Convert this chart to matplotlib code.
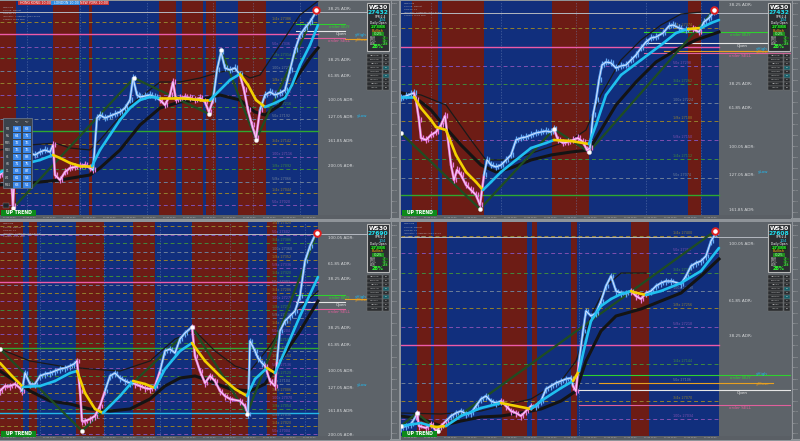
import matplotlib
matplotlib.use("Agg")
import matplotlib.pyplot as plt
from matplotlib.patches import Rectangle
from matplotlib.collections import LineCollection

# ------------------------------------------------------------------ data
# levels are chart points above each panel's lower edge; x is bar position
p1_price = [(0,40),(5,45),(10,55),(11,40),(13,9),(15,52),(20,59),(25,60),(30,62),(35,60),(40,63),(45,65),(50,63),(53,70),(55,40),(60,35),(65,43),(70,47),(75,48),(80,49),(85,50),(90,47),(93,45),(97,97),(100,100),(105,97),(110,99),(115,101),(120,103),(125,107),(130,115),(133,137),(137,120),(140,118),(145,119),(150,120),(155,118),(160,115),(165,110),(170,120),(173,133),(176,115),(180,117),(185,118),(190,117),(195,115),(200,117),(205,113),(209,103),(213,115),(217,145),(221,163),(225,147),(230,145),(235,147),(240,140),(244,125),(248,105),(252,90),(256,77),(260,105),(265,120),(270,123),(275,120),(280,122),(285,125),(290,145),(295,165),(300,180),(305,187),(310,193),(316,203)]
p1_fast = [(0,43),(20,50),(40,55),(53,60),(60,57),(70,52),(80,49),(92,49),(100,65),(110,80),(120,95),(130,107),(140,115),(150,118),(160,117),(175,117),(190,116),(200,115),(210,115),(220,125),(230,135),(240,141),(248,130),(256,115),(265,108),(275,112),(285,117),(292,130),(300,150),(310,170),(318,190)]
p1_slow = [(0,30),(30,32),(60,35),(90,40),(100,47),(120,65),(140,90),(160,107),(180,113),(200,115),(220,120),(240,115),(255,103),(265,100),(280,110),(295,135),(310,157),(318,167)]
p1_band = [(0,65),(30,70),(55,72),(70,67),(90,65),(100,75),(130,110),(160,133),(180,133),(200,137),(220,143),(235,145),(250,137),(260,140),(280,170),(300,200),(318,214)]
p1_zig = [(13,7),(134,137),(209,101),(221,165),(256,75),(316,205)]
p1_red = [(0,16),(53,79),(89,92),(159,176),(182,203),(206,216),(238,266)]
p1_down = [(53,92),(160,210),(240,265)]
p1_pink = [(0,14),(53,93),(160,212),(241,262)]
p1_levels = [193,168,157,144,132,120,108,96,71,58,46,33,22,10]
p1_solid = {"pink": 181, "green": 84}
p1_last = 203
p1_keys = {"order BUY": 191, "Open": 184, "order SELL": 177, "yHigh": 180, "yClose": 176, "yLow": 99}
p1_key_start = 296
p1_adr_v = [206,155,139,115,98,74,49]
p1_adr = ["38.25 ADR:","38.25 ADR:","61.85 ADR:","100.05 ADR:","127.05 ADR:","161.85 ADR:","200.05 ADR:"]
p1_vlines = [27,80,147,213,253,300]

p2_price = [(0,117),(5,119),(10,121),(13,122),(15,115),(18,95),(20,77),(25,75),(30,80),(35,83),(40,90),(44,99),(47,75),(50,50),(53,35),(56,45),(60,40),(65,30),(70,25),(75,20),(79,10),(83,40),(86,55),(90,50),(95,48),(100,50),(105,55),(110,60),(115,75),(120,77),(125,78),(130,80),(135,82),(140,83),(145,84),(150,83),(153,86),(157,75),(162,72),(167,73),(172,75),(177,77),(182,73),(186,65),(189,67),(192,100),(195,115),(198,135),(201,150),(205,153),(210,152),(215,147),(220,149),(225,150),(230,155),(235,160),(240,167),(245,173),(250,177),(255,178),(262,182),(268,189),(272,190),(278,187),(285,185),(292,186),(298,183),(303,193),(308,197),(313,203)]
p2_fast = [(0,118),(13,118),(20,107),(30,95),(35,88),(45,85),(55,60),(65,43),(75,33),(82,25),(90,33),(100,43),(115,55),(130,67),(145,72),(153,75),(170,74),(188,71),(195,90),(205,120),(220,140),(240,155),(260,170),(275,182),(287,186),(300,187),(310,192),(318,195)]
p2_slow = [(0,122),(15,117),(30,105),(45,87),(60,70),(80,50),(95,43),(110,47),(130,55),(150,60),(170,63),(188,65),(200,85),(215,110),(235,133),(255,153),(275,165),(295,175),(318,183)]
p2_band = [(0,123),(20,120),(45,110),(70,75),(85,55),(110,55),(140,65),(170,75),(185,85),(200,120),(220,155),(240,175),(260,190),(280,201),(300,203)]
p2_zig = [(0,82),(79,6),(153,86),(188,63),(313,205)]
p2_red = [(11,37),(41,83),(151,188),(287,300)]
p2_down = [(13,82),(153,188),(287,300)]
p2_pink = [(14,82),(154,189),(292,300)]
p2_levels = [187,149,131,112,94,75,56,37]
p2_solid = {"pink": 168, "green": 20}
p2_last = 202
p2_keys = {"order BUY": 183, "Open": 172, "order SELL": 162, "yHigh": 166, "yClose": 164, "yLow": 43}
p2_key_start = 243
p2_adr_v = [210,131,107,68,40,5]
p2_adr = ["38.25 ADR:","38.25 ADR:","61.85 ADR:","100.05 ADR:","127.05 ADR:","161.85 ADR:"]
p2_vlines = [30,100,175,245,300]

p3_price = [(0,45),(5,50),(10,50),(15,52),(20,48),(22,45),(25,63),(30,52),(35,52),(40,60),(45,62),(50,63),(55,65),(60,67),(65,68),(70,70),(74,72),(77,75),(80,45),(82,15),(85,15),(90,17),(95,20),(100,30),(105,45),(110,60),(115,63),(120,58),(125,55),(130,53),(135,52),(140,50),(145,48),(150,47),(155,50),(160,65),(165,85),(170,87),(175,83),(180,97),(185,103),(192,109),(195,80),(200,65),(205,53),(210,60),(215,55),(220,45),(225,40),(230,37),(240,35),(245,30),(248,22),(250,95),(255,85),(258,78),(262,73),(265,70),(270,55),(275,50),(277,75),(280,105),(285,115),(290,120),(295,125),(300,140),(305,175),(310,190),(316,203)]
p3_fast = [(0,73),(12,60),(23,49),(40,50),(55,55),(70,63),(77,65),(85,43),(95,27),(103,23),(110,30),(120,40),(133,55),(145,52),(155,48),(165,67),(180,85),(192,93),(205,75),(220,60),(235,47),(247,40),(255,57),(267,68),(275,63),(285,85),(300,120),(318,159)]
p3_slow = [(0,65),(15,55),(30,45),(50,35),(70,32),(90,27),(110,25),(130,27),(150,37),(165,50),(180,58),(195,60),(210,55),(230,47),(250,45),(265,52),(280,75),(300,105),(318,135)]
p3_band = [(0,87),(30,75),(60,70),(90,67),(120,65),(150,75),(175,97),(195,105),(215,85),(235,70),(250,65),(270,90),(290,120),(318,145)]
p3_zig = [(0,87),(82,5),(192,109),(247,22),(317,203)]
p3_red = [(0,23),(29,37),(76,104),(133,155),(192,248),(267,277)]
p3_down = [(0,23),(77,103),(133,155),(192,247),(267,276)]
p3_pink = [(0,23),(77,103),(135,158),(192,247),(265,277)]
p3_levels = [210,201,193,184,176,168,160,151,143,135,126,118,110,102,93,85,77,68,60,52,43,35,27,18,10,2]
p3_solid = {"pink": 154, "green": 88, "cyan": 23}
p3_last = 202
p3_keys = {"order BUY": 141, "Open": 134, "order SELL": 127, "yHigh": 139, "yClose": 137, "yLow": 51}
p3_key_start = 296
p3_adr_v = [198,172,157,108,91,65,48,25,1]
p3_adr = ["100.05 ADR:","61.85 ADR:","38.25 ADR:","38.25 ADR:","61.85 ADR:","100.05 ADR:","127.05 ADR:","161.85 ADR:","200.05 ADR:"]
p3_vlines = [40,104,160,230,305]

p4_price = [(0,8),(5,10),(10,12),(15,20),(16,23),(18,10),(25,8),(30,12),(35,5),(40,10),(45,15),(50,20),(55,23),(60,25),(65,22),(70,23),(75,30),(80,37),(85,40),(90,35),(95,33),(100,35),(105,30),(110,25),(115,23),(120,20),(125,25),(130,30),(135,30),(140,35),(145,47),(150,50),(155,53),(160,55),(165,57),(170,58),(172,50),(175,45),(178,75),(182,105),(185,125),(190,120),(195,123),(200,135),(205,150),(210,160),(215,145),(220,143),(225,143),(230,145),(235,140),(240,137),(245,143),(250,145),(255,150),(260,153),(265,155),(270,155),(280,152),(285,160),(290,170),(295,173),(300,175),(305,180),(310,195),(315,203)]
p4_fast = [(0,10),(20,13),(30,10),(35,9),(45,10),(60,20),(80,28),(100,33),(105,32),(130,27),(140,35),(160,48),(172,55),(178,65),(185,95),(190,115),(200,130),(210,137),(220,142),(230,145),(232,144),(245,141),(260,145),(280,153),(300,165),(318,188)]
p4_slow = [(0,20),(20,17),(40,10),(60,15),(80,19),(100,20),(120,23),(140,27),(160,35),(175,45),(185,75),(200,105),(215,120),(240,127),(260,135),(280,143),(300,160),(318,177)]
p4_band = [(0,23),(40,22),(80,25),(100,30),(130,37),(160,55),(175,75),(190,120),(205,150),(220,163),(245,163)]
p4_zig = [(0,10),(16,23),(37,5),(314,205)]
p4_red = [(16,30),(33,46),(101,126),(131,136),(170,176),(230,248)]
p4_down = [(30,45),(100,132),(170,176),(230,246)]
p4_pink = [(15,45),(100,132),(172,178),(230,246)]
p4_levels = [200,183,163,145,128,109,72,53,35,17]
p4_solid = {"pink": 91}
p4_last = 199
p4_keys = {"order BUY": 61, "Open": 46, "order SELL": 31, "yHigh": 62, "yClose": 53, "yLow": None}
p4_key_start = 178
p4_adr_v = [192,135,100]
p4_adr = ["100.05 ADR:","61.85 ADR:","38.25 ADR:"]
p4_vlines = [178]

quote_main = ["27432", "27432", "27690", "27608"]
tf_rows = ["M1","M5","M15","M30","H1","H4","D1","W1","MN1"]
tf_col1 = [68,64,72,76,75,71,63,61,63]
tf_col2 = [63,71,76,76,83,75,87,54,51]
pair_rows = ["GBPUSD","EURUSD","GBPJPY","USDCAD","AUDUSD","USDCHF","NAS100","GER30","US500"]
pair_vals = ["58","55","71","60","63","69","77","57","58"]
level_tags = ["1/4x","50x","3/4x","100x","1/8x","5/8x"]

# ------------------------------------------------------------------ style
W, H = 800, 441
BLUE = "#112f7d"
RED = "#6d1c15"
GRAY = "#5d6369"
LEVEL_COLS = ["#93802e", "#8050b0", "#3f8a3f", "#6c7e98"]

fig = plt.figure(figsize=(8, 4.41), dpi=100)
fig.patch.set_facecolor("#8f9499")


def px_axes(x, y, w, h):
    return fig.add_axes([x / W, 1 - (y + h) / H, w / W, h / H])


def in_ranges(x, ranges):
    return any(a <= x <= b for a, b in ranges)


def colored_line(ax, pts, ranges, c_in, c_out, lw, z):
    segs, cols = [], []
    for (x0, y0), (x1, y1) in zip(pts[:-1], pts[1:]):
        segs.append([(x0, y0), (x1, y1)])
        cols.append(c_in if in_ranges((x0 + x1) / 2, ranges) else c_out)
    ax.add_collection(LineCollection(segs, colors=cols, linewidths=lw,
                                     capstyle="round", joinstyle="round", zorder=z))


def wicks(ax, pts, ranges, c_in, c_out, z):
    segs, cols = [], []
    for x, v in pts:
        segs.append([(x, v - 3.5), (x, v + 3.5)])
        segs.append([(x + 2, v - 2), (x + 2, v + 2.5)])
        c = c_in if in_ranges(x, ranges) else c_out
        cols += [c, c]
    ax.add_collection(LineCollection(segs, colors=cols, linewidths=0.9, zorder=z))


def xy(pts):
    return [p[0] for p in pts], [p[1] for p in pts]


panels = [
    dict(price=p1_price, fast=p1_fast, slow=p1_slow, band=p1_band, zig=p1_zig, red=p1_red,
         down=p1_down, pink=p1_pink, levels=p1_levels, solid=p1_solid, last=p1_last,
         keys=p1_keys, kstart=p1_key_start, adrv=p1_adr_v, adr=p1_adr, vl=p1_vlines),
    dict(price=p2_price, fast=p2_fast, slow=p2_slow, band=p2_band, zig=p2_zig, red=p2_red,
         down=p2_down, pink=p2_pink, levels=p2_levels, solid=p2_solid, last=p2_last,
         keys=p2_keys, kstart=p2_key_start, adrv=p2_adr_v, adr=p2_adr, vl=p2_vlines),
    dict(price=p3_price, fast=p3_fast, slow=p3_slow, band=p3_band, zig=p3_zig, red=p3_red,
         down=p3_down, pink=p3_pink, levels=p3_levels, solid=p3_solid, last=p3_last,
         keys=p3_keys, kstart=p3_key_start, adrv=p3_adr_v, adr=p3_adr, vl=p3_vlines),
    dict(price=p4_price, fast=p4_fast, slow=p4_slow, band=p4_band, zig=p4_zig, red=p4_red,
         down=p4_down, pink=p4_pink, levels=p4_levels, solid=p4_solid, last=p4_last,
         keys=p4_keys, kstart=p4_key_start, adrv=p4_adr_v, adr=p4_adr, vl=p4_vlines),
]
origins = [(0, 0), (401, 0), (0, 221), (401, 221)]

KEY_COL = {"order BUY": "#2fd02f", "Open": "#e6e6e6", "order SELL": "#e0609c",
           "yHigh": "#22b8ee", "yClose": "#e8a020", "yLow": "#22b8ee"}
SOLID_COL = {"pink": "#ee5aa8", "green": "#2fa82f", "cyan": "#22b8e8"}
BLUE_C, PINK_C = "#62a6f2", "#ea78da"

for idx, (d, (ox, oy)) in enumerate(zip(panels, origins)):
    ax = px_axes(ox, oy + 1, 390, 214)
    ax.set_xlim(0, 390)
    ax.set_ylim(0, 214)
    ax.set_axis_off()
    ax.axvspan(0, 318, color=BLUE, zorder=0, lw=0)
    ax.axvspan(318, 390, color=GRAY, zorder=0, lw=0)
    for a, b in d["red"]:
        ax.axvspan(a, b, color=RED, zorder=0.5, lw=0)
    for v in d["vl"]:
        ax.plot([v, v], [0, 214], color="#6f86b8", lw=0.5, ls=(0, (2, 2)), alpha=0.6, zorder=1)

    # dashed levels
    for i, v in enumerate(d["levels"]):
        c = LEVEL_COLS[i % 4]
        ax.plot([0, 318], [v, v], color=c, lw=0.7, ls=(0, (4, 3)), zorder=1)
        ax.text(272, v + 1.2, f"{level_tags[i % 6]} {27000 + 2 * v}", color=c, fontsize=2.4,
                ha="left", va="bottom", zorder=2)
    for name, v in d["solid"].items():
        ax.plot([0, 318], [v, v], color=SOLID_COL[name], lw=1.0, zorder=1.5)
    ax.plot([0, 390], [d["last"], d["last"]], color="#b4b8c0", lw=0.7, zorder=1.5)

    # key levels in the right margin
    k = d["keys"]
    x0 = d["kstart"]
    xend = 345 if x0 > 250 else 390
    for name in ["order BUY", "Open", "order SELL"]:
        ax.plot([x0, xend], [k[name], k[name]], color=KEY_COL[name], lw=0.8, zorder=1.6)
    ax.plot([x0 + 20 if x0 < 250 else 345, 372], [k["yClose"], k["yClose"]],
            color=KEY_COL["yClose"], lw=0.8, zorder=1.6)
    ax.text(329, k["order BUY"] - 1, "order BUY", color=KEY_COL["order BUY"], fontsize=3,
            va="top", zorder=3)
    ax.text(336, k["Open"] - 1, "Open", color=KEY_COL["Open"], fontsize=3, va="top", zorder=3)
    ax.text(328, k["order SELL"] - 1, "order SELL", color=KEY_COL["order SELL"], fontsize=3,
            va="top", zorder=3)
    ax.text(355, k["yHigh"], "yHigh", color=KEY_COL["yHigh"], fontsize=3, va="center", zorder=3)
    ax.text(355, k["yClose"] - 1.5, "yClose", color=KEY_COL["yClose"], fontsize=3, va="center",
            zorder=3)
    if k["yLow"] is not None:
        ax.text(357, k["yLow"], "yLow", color=KEY_COL["yLow"], fontsize=3, va="center", zorder=3)
    for v, t in zip(d["adrv"], d["adr"]):
        ax.text(328, v, t, color="#d8dadc", fontsize=3, va="center", zorder=3)

    # indicators
    bx, bv = xy(d["band"])
    ax.plot(bx, bv, color="#1a1a1a", lw=0.9, zorder=2)
    sx, sv = xy(d["slow"])
    ax.plot(sx, sv, color="#141414", lw=2.2, zorder=2.2)
    zx, zv = xy(d["zig"])
    ax.plot(zx, zv, color="#1f4d22", lw=1.6, zorder=2.4)
    wicks(ax, d["price"], d["pink"], PINK_C, BLUE_C, 2.9)
    colored_line(ax, d["price"], d["pink"], PINK_C, BLUE_C, 1.8, 3)
    px_, pv_ = xy(d["price"])
    ax.plot(px_, pv_, color="#f4f4ff", lw=0.5, zorder=3.2)
    colored_line(ax, d["fast"], d["down"], "#f2d000", "#20c0f0", 1.9, 3.5)
    ax.scatter(zx[:-1], zv[:-1], s=9, color="white", edgecolor="#d0d0d0", lw=0.3, zorder=4)
    ax.scatter(zx[-1:], zv[-1:], s=22, color="white", edgecolor="#e02020", lw=1.4, zorder=4)

    # time strip and price strip
    ts = px_axes(ox, oy + 215, 390, 4)
    ts.set_xlim(0, 390); ts.set_ylim(0, 1); ts.set_axis_off()
    ts.axvspan(0, 390, color="#5a5f65", lw=0)
    for i in range(16):
        ts.text(3 + 20 * i, 0.5, "12 Jun 10:00", fontsize=1.4, color="#c8c8c8", va="center")
    ps = px_axes(ox + 390, oy + 1, 9, 217)
    ps.set_xlim(0, 1); ps.set_ylim(0, 217); ps.set_axis_off()
    ps.axvspan(0, 1, color="#62686e", lw=0)
    ps.plot([0.1, 0.1], [0, 217], color="#9ca0a5", lw=0.6)
    for j in range(20):
        ps.text(0.2, 5 + j * 11, f"{27000 + 22 * j}", fontsize=1.3, color="#d0d0d0", va="center")

    # info box
    ov = px_axes(ox, oy, 400, 219)
    ov.set_xlim(0, 400); ov.set_ylim(219, 0); ov.set_axis_off()
    ov.add_patch(Rectangle((367, 3), 22, 48, fc="#2b2e31", ec="#b8b8b8", lw=0.8))
    ov.text(378, 7.5, "WS30", color="white", fontsize=4.3, weight="bold", ha="center", va="center")
    ov.text(378, 12.5, quote_main[idx], color="#22e0f0", fontsize=4.3, weight="bold",
            ha="center", va="center")
    ov.text(380, 16.5, "SPR:2.4", color="white", fontsize=2.2, ha="center", va="center")
    ov.text(382, 19.8, "104", color="#22d0f0", fontsize=2.8, ha="center", va="center")
    ov.text(378, 23.3, "Daily Open", color="white", fontsize=2.2, ha="center", va="center")
    ov.add_patch(Rectangle((370, 24.8), 16, 4, fc="#0e3a0e", ec="none"))
    ov.text(378, 26.8, "27388", color="#30ff30", fontsize=3.2, weight="bold", ha="center", va="center")
    ov.text(378, 30.5, "Bullish", color="#ffb000", fontsize=2.6, ha="center", va="center")
    ov.add_patch(Rectangle((372, 32), 12, 4, fc="#1f8a1f", ec="none"))
    ov.text(378, 34, "0.25", color="#b0ffb0", fontsize=2.8, ha="center", va="center")
    for r, (a, b) in enumerate([("Pdiff", "77"), ("PD L", "39"), ("ADR", "288")]):
        ov.text(370, 37.8 + 3 * r, a, color="#d0d0d0", fontsize=2, va="center")
        ov.add_patch(Rectangle((382, 36.5 + 3 * r), 6, 2.6, fc="#1a5a1a", ec="none"))
        ov.text(385, 37.8 + 3 * r, b, color="#60ff60", fontsize=2, ha="center", va="center")
    ov.text(378, 47, "28%", color="#30ff30", fontsize=3.6, weight="bold", ha="center", va="center")
    # pairs table
    for r, (n, v) in enumerate(zip(pair_rows, pair_vals)):
        y = 54 + 4 * r
        ov.add_patch(Rectangle((367, y), 15, 3.5, fc="#2a2c2f", ec="#777", lw=0.3))
        ov.add_patch(Rectangle((383, y), 6, 3.5, fc="#2a2c2f" if r not in (3, 5) else "#15606a",
                               ec="#777", lw=0.3))
        ov.text(374.5, y + 1.8, n, color="#c0c0c0", fontsize=1.6, ha="center", va="center")
        ov.text(386, y + 1.8, v, color="#e0e0e0", fontsize=1.6, ha="center", va="center")
    # top-left caption
    for r, t in enumerate(["WS30,M5", "Source: Market", "Spread: 24",
                           "Indicator: 4 ZigZag ADR Levels", "Session Tools PRO"]):
        ov.text(3, 3 + 3.2 * r + (4 if idx == 0 else 0), t, color="#a8acb4", fontsize=1.7,
                va="center")
    # UP TREND box
    ov.add_patch(Rectangle((1, 210), 35, 5.5, fc="#0d8a1a", ec="none"))
    ov.text(18.5, 212.8, "UP TREND", color="white", fontsize=3.3, weight="bold",
            ha="center", va="center")

    if idx == 0:
        for (x, w, c, t) in [(18, 36, "#c83535", "HONG KONG 10:00"),
                             (51, 30, "#2f8ae0", "LONDON 10:00"),
                             (80, 29, "#c83535", "NEW YORK 10:00")]:
            ov.add_patch(Rectangle((x, 0.8), w, 4.6, fc=c, ec="none"))
            ov.text(x + w / 2, 3.1, t, color="white", fontsize=2.3, ha="center", va="center")
        ov.add_patch(Rectangle((3, 203), 6, 5, fc="#202428", ec="#888", lw=0.3))
        # timeframe table
        ov.add_patch(Rectangle((3, 118), 29, 70, fc="#3b424b", ec="#8090a0", lw=0.4))
        ov.text(17, 121.5, "SMA\nH", color="#d0d0d0", fontsize=1.5, ha="center", va="center")
        ov.text(27, 121.5, "EMA\nH", color="#d0d0d0", fontsize=1.5, ha="center", va="center")
        for r, (n, a, b) in enumerate(zip(tf_rows, tf_col1, tf_col2)):
            y = 126 + 7 * r
            ov.text(7.5, y + 2.8, n, color="#d8d8d8", fontsize=2, ha="center", va="center")
            ov.add_patch(Rectangle((13, y), 8, 5.6, fc="#3a86e8", ec="none"))
            ov.add_patch(Rectangle((23, y), 8, 5.6, fc="#3a86e8", ec="none"))
            ov.text(17, y + 2.8, str(a), color="white", fontsize=2.6, ha="center", va="center")
            ov.text(27, y + 2.8, str(b), color="white", fontsize=2.6, ha="center", va="center")

fig.savefig("out.png", dpi=100, facecolor=fig.get_facecolor())
